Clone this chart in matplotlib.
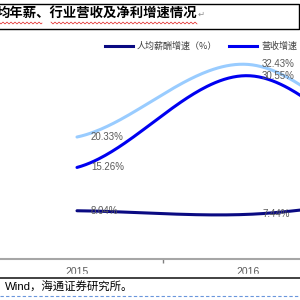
import numpy as np
import matplotlib
matplotlib.use("Agg")
import matplotlib.pyplot as plt

# data
years = ["2015", "2016", "2017"]
salary_growth = [8.04, 7.44, 10.3]       # 人均薪酬增速（%）
revenue_growth = [15.26, 30.55, 13.9]    # 营收增速
profit_growth = [20.33, 32.43, 16.1]     # 净利润增速
series_names = ["人均薪酬增速（%）", "营收增速", "净利润增速"]
series_colors = ["#0A0A82", "#0000F0", "#99CCFF"]
shown_points = 2   # only 2015 and 2016 labels are inside the crop

title = "均年薪、行业营收及净利增速情况"
source = "Wind，海通证券研究所。"

cjk = ["Liberation Sans", "Noto Sans CJK SC", "DejaVu Sans"]


def smooth(vals, n=80):
    # excel-like smoothed line (catmull-rom)
    p = np.array(vals, dtype=float)
    ext = np.concatenate([[p[0]], p, [p[-1]]])
    xs, ys = [], []
    t = np.linspace(0, 1, n)
    for i in range(len(p) - 1):
        p0, p1, p2, p3 = ext[i], ext[i + 1], ext[i + 2], ext[i + 3]
        m1 = (p2 - p0) / 2
        m2 = (p3 - p1) / 2
        h = ((2 * t**3 - 3 * t**2 + 1) * p1 + (t**3 - 2 * t**2 + t) * m1
             + (-2 * t**3 + 3 * t**2) * p2 + (t**3 - t**2) * m2)
        xs.append(i + t)
        ys.append(h)
    return np.concatenate(xs), np.concatenate(ys)


fig = plt.figure(figsize=(3, 3), dpi=100)

# main chart, x = 0 sits at pixel 77, one category = 171 px
ax = fig.add_axes([0, 41 / 300, 1, 0.8])

for vals, col in zip([salary_growth, revenue_growth, profit_growth], series_colors):
    sx, sy = smooth(vals)
    ax.plot(sx, sy, color=col, lw=2.2, solid_capstyle="round", zorder=2)
    for i in range(shown_points):
        ax.annotate(f"{vals[i]:.2f}%", (i, vals[i]), xytext=(14, 0),
                    textcoords="offset pixels", ha="left", va="center",
                    fontsize=7, color="#595959", family="Liberation Sans", zorder=4)

for s in ["top", "left", "right"]:
    ax.spines[s].set_visible(False)
ax.spines["bottom"].set_color("#A6A6A6")
ax.spines["bottom"].set_linewidth(1.5)
ax.set_yticks([])
ax.set_xticks([0.5])
ax.set_xticklabels([""])
ax.tick_params(axis="x", which="major", length=3, width=1, color="#808080")
ax.set_xticks(range(len(years)), minor=True)
ax.set_xticklabels(years, minor=True, fontsize=7.5, color="#595959",
                   family="Liberation Sans")
ax.tick_params(axis="x", which="minor", length=0, pad=5.5)
# limits last, set_xticks would widen them
ax.set_xlim(-77 / 171, 223 / 171)
ax.set_ylim(0, 40)

# overlay in pixel coordinates for the page decorations
ov = fig.add_axes([0, 0, 1, 1], zorder=5)
ov.set_xlim(0, 300)
ov.set_ylim(300, 0)
ov.axis("off")
ov.patch.set_alpha(0)

# title box
ov.plot([-5, 298.5, 298.5, -5], [3.5, 3.5, 28.5, 28.5], color="black", lw=1.0)
ov.text(-3, 14, title, fontsize=9.6, fontweight="bold", va="center", ha="left",
        family=["Noto Sans CJK SC", "DejaVu Sans"], color="black")
ov.text(198, 14, "↵", fontsize=6, va="center", ha="left", color="#909090",
        family=["DejaVu Sans"])
for a, b in [(0, 42), (51, 197)]:
    wx = np.linspace(a, b, int((b - a) * 2))
    ov.plot(wx, 23 + 0.9 * np.sin(wx * np.pi / 2), color="#E02020", lw=0.5)

# legend (third entry falls outside the crop)
leg_x = [105, 229, 353]
for x0, name, col in zip(leg_x, series_names, series_colors):
    ov.plot([x0, x0 + 28], [46, 46], color=col, lw=2.2)
    ov.text(x0 + 32, 46.5, name, fontsize=6.5, va="center", ha="left",
            color="#404040", family=["Noto Sans CJK SC", "DejaVu Sans"])

# bottom part: covers the lower half of the tick labels
ov.add_patch(plt.Rectangle((0, 274.3), 300, 26, color="white", zorder=1))
ov.plot([0, 300], [277.6, 277.6], color="#333333", lw=1.3, zorder=2)
ov.text(5, 287.5, source, fontsize=8.2, va="center", ha="left", color="black",
        family=cjk, zorder=2)
ov.plot([0, 300], [295.5, 295.5], color="#6A96DC", lw=0.8, ls=(0, (3, 2)), zorder=2)

fig.savefig("out.png", dpi=100)
